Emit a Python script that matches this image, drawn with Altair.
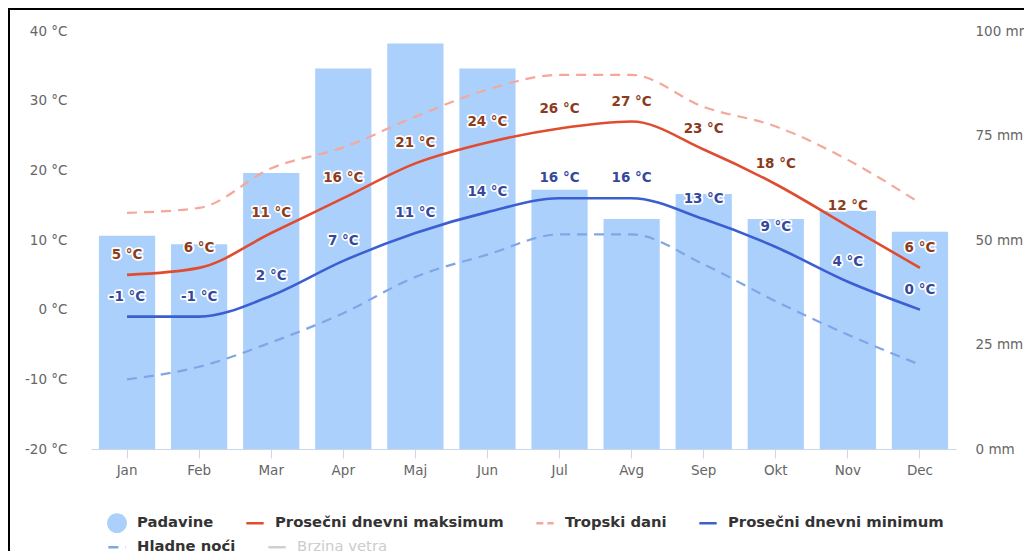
import altair as alt
import pandas as pd

months = ["Jan", "Feb", "Mar", "Apr", "Maj", "Jun", "Jul", "Avg", "Sep", "Okt", "Nov", "Dec"]
precip_mm = [51, 49, 66, 91, 97, 91, 62, 55, 61, 55, 57, 52]
max_temp = [5, 6, 11, 16, 21, 24, 26, 27, 23, 18, 12, 6]
min_temp = [-1, -1, 2, 7, 11, 14, 16, 16, 13, 9, 4, 0]
tropski = [13.9, 14.6, 20.3, 23.3, 27.7, 31.6, 33.7, 33.7, 29.1, 26.3, 21.5, 15.3]
hladne = [-10.0, -8.2, -4.7, -0.5, 4.7, 7.9, 10.8, 10.8, 6.5, 1.2, -3.6, -7.9]

row1_names = ["Padavine", "Prosečni dnevni maksimum", "Tropski dani", "Prosečni dnevni minimum"]
row1_colors = ["#acd0fc", "#e04c30", "#f4a89c", "#3b5fd0"]
row2_names = ["Hladne noći", "Brzina vetra"]
HLADNE_COLOR = "#7fa6e6"
WIND_COLOR = "#d0d0d0"

FONT = "DejaVu Sans"
AX_FS = 13.5
LEG_FS = 14.8
# line symbol: horizontal stroke, with invisible move-to points so that its box is as tall as the circle
LINE_SYM = "M-1,0L1,0M0,-1M0,1"

bars_df = pd.DataFrame({"month": months, "mm": precip_mm, "series": "Padavine"})
solid_df = pd.concat([
    pd.DataFrame({"month": months, "t": max_temp, "series": row1_names[1]}),
    pd.DataFrame({"month": months, "t": min_temp, "series": row1_names[3]}),
])
trop_df = pd.DataFrame({"month": months, "t": tropski, "series": row1_names[2]})
hlad_df = pd.DataFrame({"month": months, "t": hladne, "series": row2_names[0]})
max_df = pd.DataFrame({"month": months, "t": max_temp})
min_df = pd.DataFrame({"month": months, "t": min_temp})

x_enc = alt.X("month:N", sort=months,
              scale=alt.Scale(paddingInner=0.22, paddingOuter=0.11),
              axis=alt.Axis(title=None, labelAngle=0, labelFont=FONT, labelFontSize=AX_FS,
                            labelColor="#666", domainColor="#ccd6eb", tickColor="#ccd6eb",
                            tickSize=9, labelPadding=5, grid=False))

temp_scale = alt.Scale(domain=[-20, 40], nice=False, zero=False)
temp_axis = alt.Axis(title=None, orient="left", values=[-20, -10, 0, 10, 20, 30, 40],
                     labelExpr="datum.value + ' °C'", labelFont=FONT, labelFontSize=AX_FS,
                     labelColor="#666", domain=False, ticks=False, grid=False,
                     labelPadding=24)

# legend row 1 (color)
sym_shape1 = f"datum.value === 'Padavine' ? 'circle' : '{LINE_SYM}'"
sym_dash1 = "datum.value === 'Tropski dani' ? [7, 4] : [1, 0]"
sym_col1 = ("datum.value === 'Padavine' ? '#acd0fc' : datum.value === 'Prosečni dnevni maksimum' ? '#e04c30' : "
            "datum.value === 'Tropski dani' ? '#f4a89c' : '#3b5fd0'")

color_enc = alt.Color(
    "series:N",
    scale=alt.Scale(domain=row1_names, range=row1_colors),
    legend=alt.Legend(
        title=None, orient="none", legendX=16, legendY=482, direction="horizontal",
        columns=4, columnPadding=27,
        labelFont=FONT, labelFontSize=LEG_FS, labelFontWeight="bold", labelColor="#333333",
        labelOffset=10, symbolSize=300, symbolStrokeWidth=2.5, labelLimit=400,
        symbolType=alt.ExprRef(sym_shape1),
        symbolDash=alt.ExprRef(sym_dash1),
        symbolFillColor=alt.ExprRef(sym_col1),
        symbolStrokeColor=alt.ExprRef(sym_col1),
        symbolOpacity=1,
    ),
)

# legend row 2 (strokeDash)
sym_col2 = f"datum.value === 'Hladne noći' ? '{HLADNE_COLOR}' : '{WIND_COLOR}'"
dash_enc = alt.StrokeDash(
    "series:N",
    scale=alt.Scale(domain=row2_names, range=[[10, 7], [1, 0]]),
    legend=alt.Legend(
        title=None, orient="none", legendX=16, legendY=506, direction="horizontal",
        columns=2, columnPadding=27,
        labelFont=FONT, labelFontSize=LEG_FS,
        labelFontWeight=alt.ExprRef("datum.value === 'Brzina vetra' ? 'normal' : 'bold'"),
        labelColor=alt.ExprRef("datum.value === 'Brzina vetra' ? '#cccccc' : '#333333'"),
        labelOffset=10, symbolSize=300, symbolStrokeWidth=2.5, labelLimit=400,
        symbolType=LINE_SYM,
        symbolDash=alt.ExprRef("datum.value === 'Hladne noći' ? [7, 4] : [1, 0]"),
        symbolStrokeColor=alt.ExprRef(sym_col2),
        symbolFillColor="transparent",
        symbolOpacity=1,
    ),
)

bars = alt.Chart(bars_df).mark_bar(opacity=1).encode(
    x=x_enc,
    y=alt.Y("mm:Q", scale=alt.Scale(domain=[0, 100], nice=False),
            axis=alt.Axis(orient="right", title=None, values=[0, 25, 50, 75, 100],
                          labelExpr="datum.value + ' mm'", labelFont=FONT, labelFontSize=AX_FS,
                          labelColor="#666", domain=False, ticks=False, grid=False,
                          labelPadding=19)),
    color=color_enc,
)

solid = alt.Chart(solid_df).mark_line(interpolate="monotone", strokeWidth=2.6).encode(
    x=alt.X("month:N", sort=months),
    y=alt.Y("t:Q", scale=temp_scale, axis=temp_axis),
    color=alt.Color("series:N", legend=None),
    detail="series:N",
)

trop = alt.Chart(trop_df).mark_line(interpolate="monotone", strokeWidth=2.2, strokeDash=[10, 7]).encode(
    x=alt.X("month:N", sort=months),
    y=alt.Y("t:Q", scale=temp_scale, axis=temp_axis),
    color=alt.Color("series:N", legend=None),
)

hlad = alt.Chart(hlad_df).mark_line(interpolate="monotone", strokeWidth=2.2, color=HLADNE_COLOR).encode(
    x=alt.X("month:N", sort=months),
    y=alt.Y("t:Q", scale=temp_scale, axis=temp_axis),
    strokeDash=dash_enc,
)


def labels(df, color):
    base = alt.Chart(df).encode(
        x=alt.X("month:N", sort=months),
        y=alt.Y("t:Q", scale=temp_scale, axis=temp_axis),
        text=alt.Text("lbl:N"),
    ).transform_calculate(lbl="datum.t + ' °C'")
    halo = base.mark_text(font=FONT, fontSize=13.5, fontWeight="bold", dy=-20,
                          baseline="middle", stroke="white", strokeWidth=3.5,
                          strokeJoin="round", fill="white")
    txt = base.mark_text(font=FONT, fontSize=13.5, fontWeight="bold", dy=-20,
                         baseline="middle", fill=color)
    return halo + txt


temps = alt.layer(solid, trop, hlad, labels(max_df, "#8c3b1c"), labels(min_df, "#34489c"))

# frame lines of the surrounding page box (decoration)
frame_df = pd.DataFrame({"k": [0]})
frame_top = alt.Chart(frame_df).mark_rule(color="black", strokeWidth=2, clip=False).encode(
    x=alt.value(-83), x2=alt.value(933), y=alt.value(-22))
frame_left = alt.Chart(frame_df).mark_rule(color="black", strokeWidth=2, clip=False).encode(
    x=alt.value(-82), y=alt.value(-23), y2=alt.value(530))

chart = alt.layer(bars, temps, frame_top, frame_left).resolve_scale(y="independent").properties(
    width=865, height=418,
    autosize=alt.AutoSizeParams(type="none"),
    padding={"left": 83, "top": 23, "right": 68, "bottom": 102},
).configure(background="white").configure_view(stroke=None)

chart.save("out.html", embed_options={"renderer": "svg", "actions": False})
